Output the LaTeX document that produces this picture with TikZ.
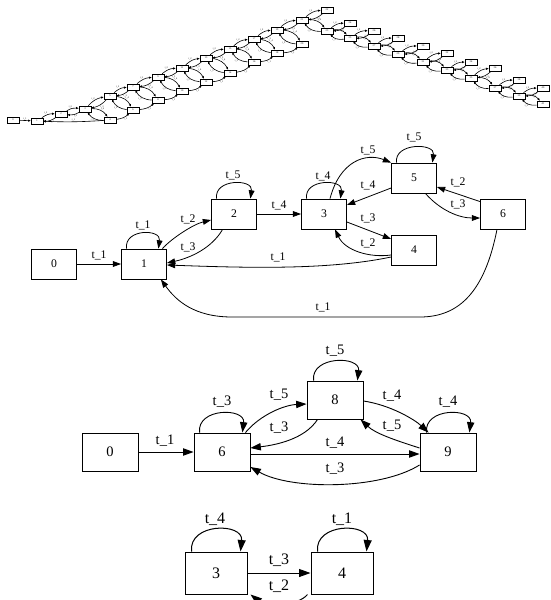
\documentclass[tikz,border=0pt]{standalone}
\usepackage{fontspec}
\setmainfont{Liberation Serif}
\usetikzlibrary{arrows.meta,calc}
\begin{document}
\begin{tikzpicture}[x=1pt,y=-1pt,
  tbox/.style={draw, line width=0.65pt, minimum width=12pt, minimum height=6pt, inner sep=0pt, font=\fontsize{2.6}{3}\selectfont},
  tedge/.style={line width=0.6pt, -{Triangle[length=2.6pt,width=2pt]}},
  tlab/.style={font=\fontsize{2.4}{3}\selectfont, inner sep=0.3pt},
  abox/.style={draw, line width=0.8pt, minimum width=45pt, minimum height=30pt, inner sep=0pt, font=\fontsize{11.7}{12}\selectfont},
  aedge/.style={line width=0.8pt, -{Triangle[length=8.3pt,width=5.8pt]}},
  alab/.style={font=\fontsize{11.7}{12}\selectfont, inner sep=0pt},
  bbox/.style={draw, line width=0.9pt, minimum width=56pt, minimum height=38pt, inner sep=0pt, font=\fontsize{14.5}{15}\selectfont},
  bedge/.style={line width=0.9pt, -{Triangle[length=10.4pt,width=7.3pt]}},
  blab/.style={font=\fontsize{14.5}{15}\selectfont, inner sep=0pt},
  cbox/.style={draw, line width=1pt, minimum width=62pt, minimum height=42pt, inner sep=0pt, font=\fontsize{16}{17}\selectfont},
  cedge/.style={line width=1pt, -{Triangle[length=11.5pt,width=8pt]}},
  clab/.style={font=\fontsize{16}{17}\selectfont, inner sep=0pt}
]
\useasboundingbox (0,0) rectangle (550,600);
\clip (0,0) rectangle (550,600);

% ---------------- top graph ----------------
\foreach \n/\x/\y/\t in {T0/13/120/0, T1/37/121/1, T2/61/114/2, T3/85/109/3,
  U4/110/96/5, U5/133/87/7, U6/158/77/9, U7/182/68/11, U8/206/58/13, U9/230/49/15, U10/254/39/17, U11/277/30/19,
  L4/110/120/4, L5/133/110/6, L6/158/100/8, L7/182/91/10, L8/206/82/12, L9/230/73/14, L10/254/62/16, L11/277/53/18, L12/302/44/20,
  S0/302/20/21, S1/327/31/23, S2/350/38/25, S3/374/46/27, S4/398/54/29, S5/423/62/31, S6/447/70/33, S7/471/78/35, S8/495/88/37, S9/519/96/39, S10/543/104/41,
  F1/327/10/22, F2/350/23/24, F3/374/31/26, F4/398/38/28, F5/423/46/30, F6/447/53/32, F7/471/62/34, F8/495/68/36, F9/519/80/38, F10/543/88/40}
  {\node[tbox] (\n) at (\x,\y) {\t};}

\draw[tedge] (T0) -- node[tlab,above]{t\_1} (T1);
\foreach \a/\b in {T1/T2,T2/T3,T3/U4,U4/U5,U5/U6,U6/U7,U7/U8,U8/U9,U9/U10,U10/U11,U11/S0,
  S0/F1,S1/F2,S2/F3,S3/F4,S4/F5,S5/F6,S6/F7,S7/F8,S8/F9,S9/F10}{
  \draw[tedge] (\a) to[bend left=18] node[tlab,auto]{t\_2} (\b);
  \draw[tedge] (\b) to[bend left=18] node[tlab,auto]{t\_3} (\a);
}
\foreach \a/\b in {T3/L4,U4/L5,U5/L6,U6/L7,U7/L8,U8/L9,U9/L10,U10/L11,U11/L12,
  S0/S1,S1/S2,S2/S3,S3/S4,S4/S5,S5/S6,S6/S7,S7/S8,S8/S9,S9/S10}{
  \draw[tedge] (\a) to[bend left=28] node[tlab,auto]{t\_4} (\b);
  \draw[tedge] (\b) to[bend left=28] node[tlab,auto]{t\_5} (\a);
}
\foreach \a/\b in {L4/L5,L5/L6,L6/L7,L7/L8,L8/L9,L9/L10,L10/L11,L11/L12}{
  \draw[tedge] (\a) to[bend right=18] node[tlab,auto,swap]{t\_1} (\b);
}
\draw[tedge] (L4) to[bend left=3] node[tlab,above]{t\_1} (T1);

% ---------------- second graph ----------------
\node[abox] (a0) at (54,264) {0};
\node[abox] (a1) at (144,264) {1};
\node[abox] (a2) at (234,214) {2};
\node[abox] (a3) at (324,214) {3};
\node[abox] (a4) at (414,250) {4};
\node[abox] (a5) at (414,178) {5};
\node[abox] (a6) at (503,214) {6};

\draw[aedge] (a0) -- (a1) node[alab] at (99,255) {t\_1};
\draw[aedge] ($(a1.north west)+(5.5,0)$) .. controls +(-3,-20) and +(3,-20) .. ($(a1.north east)+(-8.5,0)$)
  node[alab] at (143,225) {t\_1};
\draw[aedge] ($(a1.north east)+(-4.5,0)$) .. controls +(10,-11) and +(-17,4) .. ($(a2.west)+(0,6)$)
  node[alab] at (188,219) {t\_2};
\draw[aedge] ($(a2.south west)+(11.5,0)$) .. controls +(-11,19) and +(23,-5) .. ($(a1.east)+(0,-1)$)
  node[alab] at (188,247) {t\_3};
\draw[aedge] ($(a2.north west)+(5.5,0)$) .. controls +(-3,-20) and +(3,-20) .. ($(a2.north east)+(-6.5,0)$)
  node[alab] at (233,175) {t\_5};
\draw[aedge] (a2) -- (a3) node[alab] at (279,205) {t\_4};
\draw[aedge] ($(a3.north west)+(5.5,0)$) .. controls +(-3,-20) and +(3,-20) .. ($(a3.north east)+(-6.5,0)$)
  node[alab] at (323,176) {t\_4};
\draw[aedge] ($(a3.north)+(6,0)$) .. controls +(10,-38) and +(-25,-10) .. (a5.north west)
  node[alab] at (368,150) {t\_5};
\draw[aedge] ($(a5.north west)+(5.5,0)$) .. controls +(-3,-20) and +(3,-20) .. ($(a5.north east)+(-4.5,0)$)
  node[alab] at (414,137) {t\_5};
\draw[aedge] ($(a5.west)+(0,10)$) -- ($(a3.east)+(0,-9)$) node[alab] at (368,185) {t\_4};
\draw[aedge] ($(a3.east)+(0,8)$) -- ($(a4.west)+(0,-11)$) node[alab] at (368,218) {t\_3};
\draw[aedge] ($(a4.west)+(0,5)$) .. controls +(-22,3) and +(10,21) .. ($(a3.south)+(11,0)$)
  node[alab] at (368,243) {t\_2};
\draw[aedge] ($(a6.north west)+(0,3)$) -- ($(a5.east)+(0,9)$) node[alab] at (458,182) {t\_2};
\draw[aedge] ($(a5.south east)+(-11.5,0)$) .. controls +(15,17) and +(-21,0) .. ($(a6.west)+(0,4)$)
  node[alab] at (458,204) {t\_3};
\draw[aedge] ($(a4.west)+(0,7)$) .. controls +(-62,13) and +(83,3) .. ($(a1.east)+(0,1)$)
  node[alab] at (278,257) {t\_1};
\draw[aedge] ($(a6.south)+(-6,0)$) .. controls +(-12,61) and +(40,0) .. (420,317) -- (232,317)
  .. controls +(-38,0) and +(15,21) .. ($(a1.south east)+(-6,0)$)
  node[alab] at (323,307) {t\_1};

% ---------------- third graph ----------------
\node[bbox] (b0) at (110,452) {0};
\node[bbox] (b6) at (222,452) {6};
\node[bbox] (b8) at (335,400) {8};
\node[bbox] (b9) at (448,452) {9};

\draw[bedge] (b0) -- (b6) node[blab] at (165,441) {t\_1};
\draw[bedge] ($(b6.north west)+(6,0)$) .. controls +(-3,-25) and +(3,-25) .. ($(b6.north east)+(-8,0)$)
  node[blab] at (222,402) {t\_3};
\draw[bedge] ($(b6.north east)+(-5,0)$) .. controls +(15,-18) and +(-22,1) .. ($(b8.west)+(0,4)$)
  node[blab] at (279,395) {t\_5};
\draw[bedge] ($(b8.south west)+(11,0)$) .. controls +(-13,20) and +(25,-3) .. ($(b6.east)+(0,-4)$)
  node[blab] at (279,428) {t\_3};
\draw[bedge] ($(b8.north west)+(7,0)$) .. controls +(-3,-25) and +(3,-25) .. ($(b8.north east)+(-6,0)$)
  node[blab] at (335,351) {t\_5};
\draw[bedge] ($(b8.east)+(0,1)$) .. controls +(27,4) and +(-14,-13) .. ($(b9.north west)+(9,0)$)
  node[blab] at (392,396) {t\_4};
\draw[bedge] ($(b9.west)+(0,-4)$) .. controls +(-25,-8) and +(15,14) .. ($(b8.south east)+(-3,0)$)
  node[blab] at (392,426) {t\_5};
\draw[bedge] ($(b9.north west)+(7,0)$) .. controls +(-3,-25) and +(3,-25) .. ($(b9.north east)+(-7,0)$)
  node[blab] at (448,402) {t\_4};
\draw[bedge] ($(b6.east)+(0,2)$) -- ($(b9.west)+(0,2)$) node[blab] at (335,443) {t\_4};
\draw[bedge] ($(b9.west)+(0,13)$) .. controls +(-40,25) and +(40,23) .. ($(b6.east)+(0,15)$)
  node[blab] at (335,469) {t\_3};

% ---------------- fourth graph ----------------
\node[cbox] (c3) at (216,573) {3};
\node[cbox] (c4) at (342,573) {4};

\draw[cedge] ($(c3.north west)+(7,0)$) .. controls +(-3,-29) and +(3,-29) .. ($(c3.north east)+(-7,0)$)
  node[clab] at (215,519) {t\_4};
\draw[cedge] ($(c4.north west)+(7,0)$) .. controls +(-3,-29) and +(3,-29) .. ($(c4.north east)+(-7,0)$)
  node[clab] at (342,519) {t\_1};
\draw[cedge] (c3) -- (c4) node[clab] at (279,560) {t\_3};
\draw[cedge] ($(c4.south west)+(-3,0)$) .. controls +(-10,12) and +(15,12) .. ($(c3.south east)+(3,0)$)
  node[clab] at (279,586) {t\_2};
\end{tikzpicture}
\end{document}
